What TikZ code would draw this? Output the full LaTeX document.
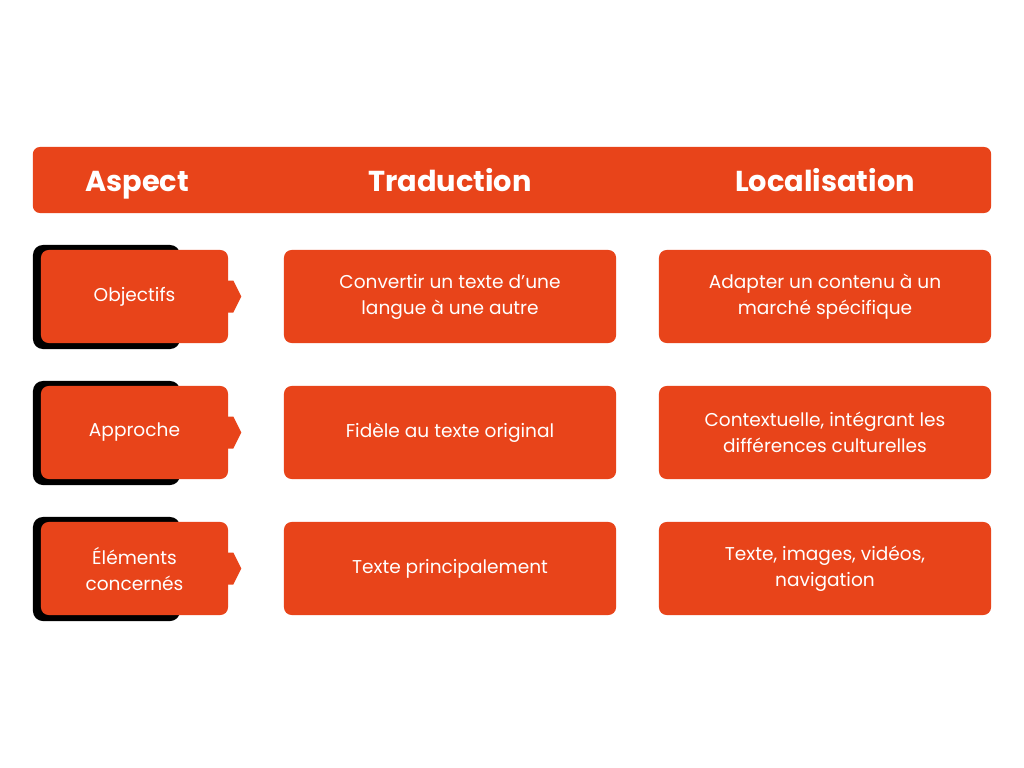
\documentclass[tikz,border=0pt]{standalone}
\usepackage{fontspec}
\setmainfont{Poppins}
\definecolor{brick}{HTML}{E8441A}

\begin{document}
\begin{tikzpicture}[x=0.025cm,y=-0.025cm]
\tikzstyle{every node}+=[inner sep=0pt, text=white, align=center]
\tikzstyle{cell}=[fill=brick, rounded corners=5.5pt, minimum height=2.325cm, font=\fontsize{13.2}{18.5}\selectfont]
\tikzstyle{aspectbox}=[cell, minimum width=4.675cm]
\tikzstyle{textbox}=[cell, minimum width=8.3cm]
\tikzstyle{backing}=[fill=black, rounded corners=7pt, minimum width=3.675cm, minimum height=2.6cm]
\tikzstyle{headtext}=[font=\fontsize{20.5}{24}\selectfont\bfseries, text height=18pt, text depth=2pt]
\useasboundingbox [fill=white] (0,0) rectangle (1024,768);
% header
\node [fill=brick, rounded corners=5pt, minimum width=23.95cm, minimum height=1.65cm] (head) at (512,180) {};
\node [headtext] (hasp) at (137,180) {Aspect};
\node [headtext] (htra) at (450,180) {Traduction};
\node [headtext] (hloc) at (825,180) {Localisation};
% rows
\foreach \r/\y/\a/\t/\l in {
  1/296.5/{Objectifs}/{Convertir un texte d’une\\langue à une autre}/{Adapter un contenu à un\\marché spécifique},
  2/432.5/{Approche}/{Fidèle au texte original}/{Contextuelle, intégrant les\\différences culturelles},
  3/568.5/{Éléments\\concernés}/{Texte principalement}/{Texte, images, vidéos,\\navigation}}
{
  \node [backing] (s\r) at (106.5,\y+0.5) {};
  \node [aspectbox] (a\r) at (134.5,\y) {\a};
  \fill [brick, shift={(a\r.east)}] (-2,-16) -- (5,-16) -- (13,0) -- (5,16) -- (-2,16) -- cycle;
  \node [textbox] (t\r) at (450,\y) {\t};
  \node [textbox] (l\r) at (825,\y) {\l};
}
\end{tikzpicture}
\end{document}
